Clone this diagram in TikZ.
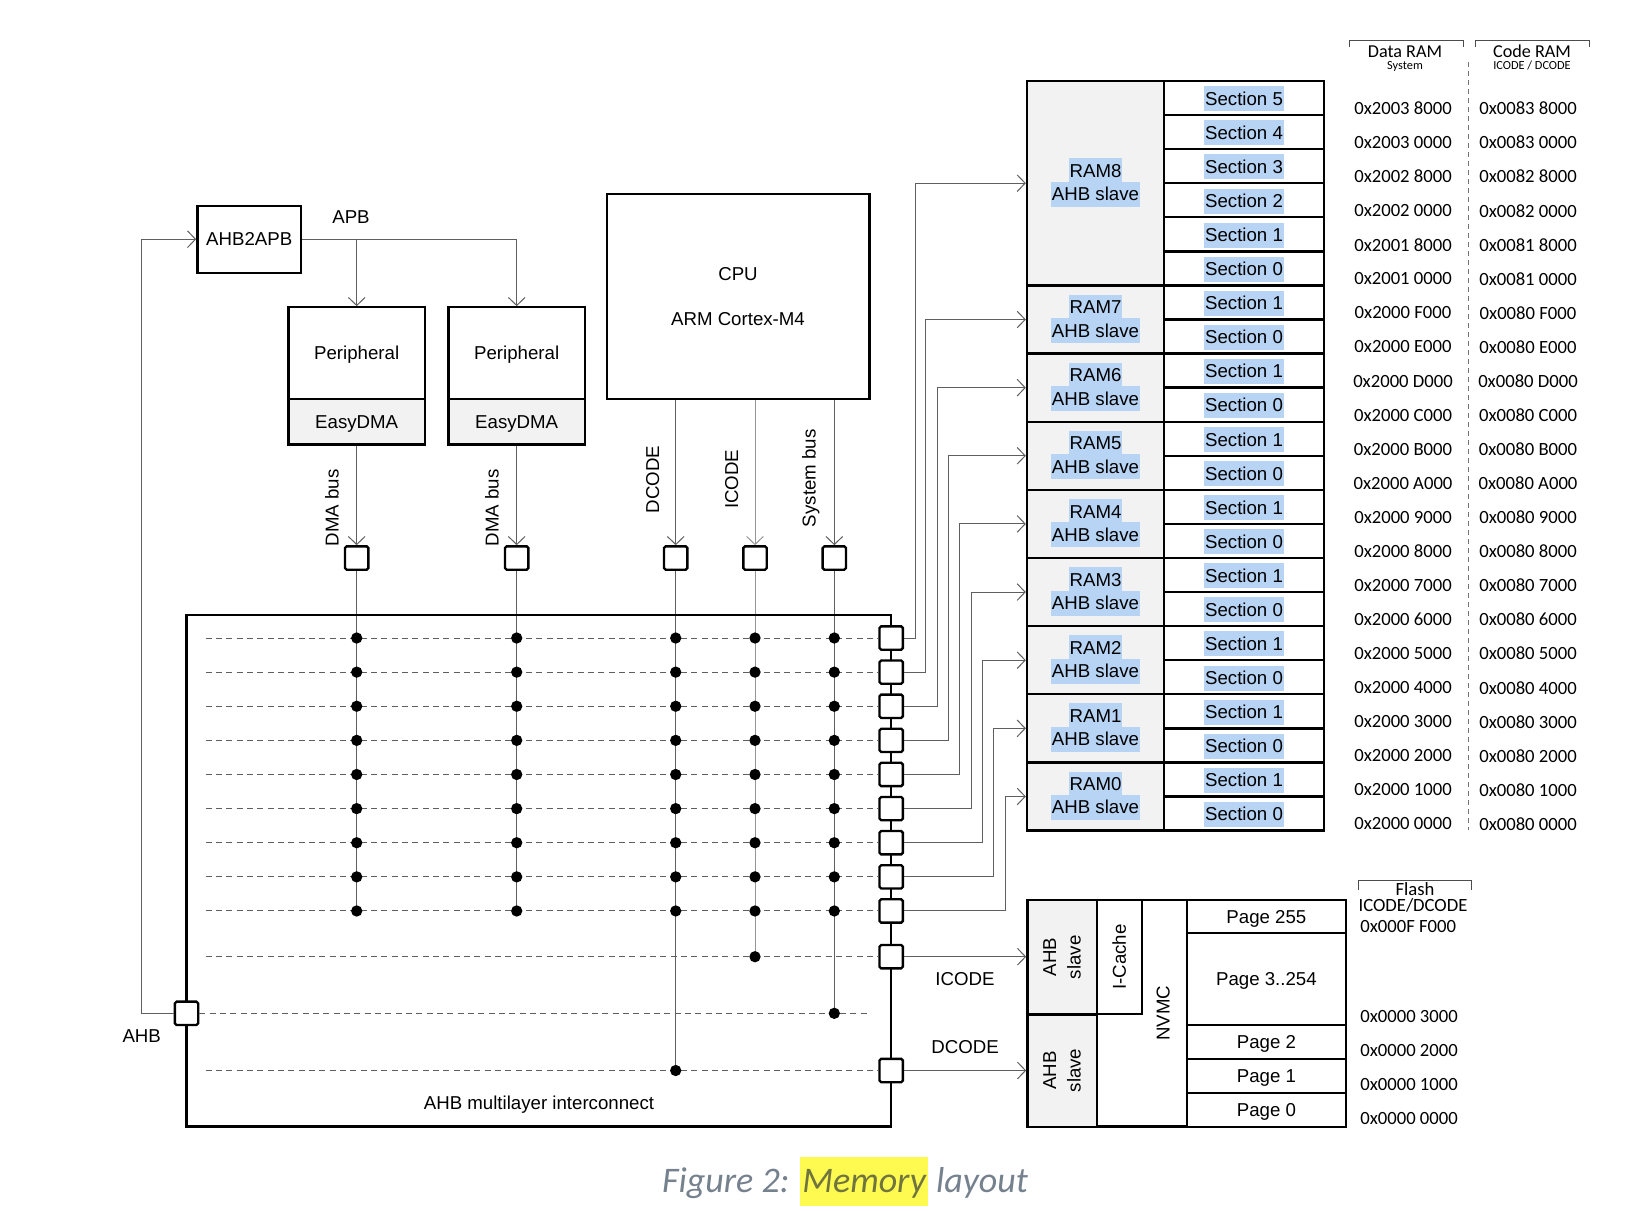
\documentclass[tikz,border=0pt]{standalone}
\usepackage{fontspec}
\setmainfont{Liberation Sans}
\newfontfamily\carl{Carlito}
\usetikzlibrary{arrows.meta,calc}
\definecolor{hl}{RGB}{183,212,245}
\definecolor{boxgrey}{RGB}{242,242,242}
\definecolor{cgrey}{RGB}{95,95,95}
\definecolor{lgrey}{RGB}{150,150,150}
\definecolor{capgrey}{RGB}{118,129,142}
\definecolor{capyel}{RGB}{255,250,80}
\definecolor{capol}{RGB}{112,116,62}
\newcommand\fA{\fontsize{11.2pt}{13.4pt}\selectfont}
\newcommand\fAr{\fontsize{11.2pt}{14.6pt}\selectfont}
\newcommand\fC{\carl\fontsize{11.2pt}{13.4pt}\selectfont}
\newcommand\fCh{\carl\fontsize{10.9pt}{12pt}\selectfont}
\newcommand\fCs{\carl\fontsize{7.4pt}{8.8pt}\selectfont}
\pgfdeclarelayer{back}
\pgfdeclarelayer{bg}
\pgfsetlayers{back,bg,main}
\begin{document}
\begin{tikzpicture}[x=0.6pt,y=-0.6pt,
  box/.style={draw, line width=1.4pt, inner sep=0pt, font=\fA},
  ctr/.style={text height=8pt, text depth=0pt},
  sq/.style={draw, line width=1.4pt, fill=white, minimum size=14pt, inner sep=0pt, rounded corners=1pt},
  conn/.style={draw=cgrey, line width=0.6pt},
  arr/.style={conn, -{Straight Barb[length=4.8pt,width=10pt]}},
  dline/.style={draw=cgrey, line width=0.6pt, dash pattern=on 3.6pt off 2.6pt},
  dot/.style={circle, fill=black, inner sep=0pt, minimum size=6.8pt},
  hlt/.style={fill=hl, inner xsep=0.6pt, inner ysep=0pt, text height=11.4pt, text depth=3.6pt, anchor=base, font=\fA},
  lab/.style={inner sep=0pt, font=\fA},
  addr/.style={inner sep=0pt, font=\fC},
]
\begin{pgfonlayer}{back}
\fill[white] (0,0) rectangle (1628,1210);
\end{pgfonlayer}
\useasboundingbox (0,0) rectangle (1628,1210);

% ---------- AHB2APB and peripherals ----------
\node[box, ctr, minimum width=62.2pt, minimum height=40.2pt] (apbbr) at (249.2,239.2) {AHB2APB};
\node[lab] (apblab) at (351,217) {APB};
\foreach \n/\xx in {1/356.7, 2/516.7} {
  \node[box, ctr, minimum width=82pt, minimum height=55.2pt] (per\n) at (\xx,353.3) {Peripheral};
  \node[box, ctr, fill=boxgrey, minimum width=82pt, minimum height=27.1pt] (dma\n) at (\xx,421.9) {EasyDMA};
  \node[sq] (sqm\n) at (\xx,558) {};
  \draw[arr] (dma\n.south) -- (sqm\n.north);
}
\node[lab, rotate=90] (dmal1) at (332,507.7) {DMA bus};
\node[lab, rotate=90] (dmal2) at (492,507.7) {DMA bus};
\draw[arr] (apbbr.east) -| (per2.north);
\draw[arr] (per1.north |- apbbr.east) -- (per1.north);

% ---------- CPU ----------
\node[box, minimum width=157.6pt, minimum height=122.9pt, align=center] (cpu) at (738,296.6) {CPU\\[14pt]ARM Cortex-M4};
\node[sq] (sqdc) at (675.7,558) {};
\node[sq] (sqic) at (755,558) {};
\node[sq] (sqsb) at (834.3,558) {};
\draw[arr] (sqdc |- cpu.south) -- (sqdc.north);
\draw[arr, draw=lgrey] (sqic |- cpu.south) -- (sqic.north);
\draw[arr] (sqsb |- cpu.south) -- (sqsb.north);
\node[lab, rotate=90] (dcl) at (652.7,479.3) {DCODE};
\node[lab, rotate=90] (icl) at (731.7,479.3) {ICODE};
\node[lab, rotate=90] (sbl) at (810.7,478.3) {System bus};

% ---------- Interconnect ----------
\node[box, minimum width=422.8pt, minimum height=306.8pt] (ic) at (538.9,870.7) {};
\node[lab] (iclab) at (539,1104.5) {AHB multilayer interconnect};
\foreach \kk in {0,...,8} {
  \pgfmathsetmacro\yy{638+34.12*\kk}
  \node[sq] (sqr\kk) at (891.2,\yy) {};
  \draw[dline] (205.6,\yy) -- (sqr\kk.west);
  \foreach \cc/\xx in {a/356.7,b/516.7,c/675.7,d/755,e/834.3}
    \node[dot] (dt\cc\kk) at (\xx,\yy) {};
}
\node[sq] (sqi) at (891.2,956.7) {};
\node[sq] (sqd) at (891.2,1070.5) {};
\node[sq] (sqa) at (186.5,1013.3) {};
\draw[dline] (205.6,956.7) -- (sqi.west);
\draw[dline] (sqa.east) -- (870,1013.3);
\draw[dline] (205.6,1070.5) -- (sqd.west);
\node[dot] (dtdI) at (755,956.7) {};
\node[dot] (dteA) at (834.3,1013.3) {};
\node[dot] (dtcD) at (675.7,1070.5) {};
\begin{pgfonlayer}{bg}
  \draw[conn] (sqm1.south) -- (dta8.center);
  \draw[conn] (sqm2.south) -- (dtb8.center);
  \draw[conn] (sqdc.south) -- (dtcD.center);
  \draw[conn, draw=lgrey] (sqic.south) -- (dtdI.center);
  \draw[conn] (sqsb.south) -- (dteA.center);
\end{pgfonlayer}

% AHB feedback to AHB2APB
\coordinate (ahbx) at (141.7,0);
\draw[arr] (sqa.west) -- (sqa.west -| ahbx) |- (apbbr.west);
\node[lab] (ahblab) at (141.7,1036) {AHB};

% ---------- RAM blocks ----------
\node[box, fill=boxgrey, minimum width=82.2pt, minimum height=122.64pt] (ram8) at (1095.5,183.2) {};
\node[hlt] at (1095.5,177.3) {RAM8};
\node[hlt] at (1095.5,200.7) {AHB slave};
\foreach \jj in {7,...,0} {
  \pgfmathsetmacro\cy{81+34.07*(6+2*(7-\jj)+1)}
  \node[box, fill=boxgrey, minimum width=82.2pt, minimum height=40.88pt] (ram\jj) at (1095.5,\cy) {};
  \node[hlt] at (1095.5,\cy-5.9) {RAM\jj};
  \node[hlt] at (1095.5,\cy+17.5) {AHB slave};
}
\foreach \rr in {0,...,21} {
  \pgfmathtruncatemacro\sn{\rr<6 ? 5-\rr : mod(\rr+1,2)}
  \pgfmathsetmacro\ry{98.04+34.07*\rr}
  \node[box, minimum width=96pt, minimum height=20.44pt] (sec\rr) at (1244,\ry) {};
  \node[hlt] at (1244,\ry+7.3) {Section \sn};
}
\foreach \kk/\xv in {0/915,1/925.5,2/937,3/948.3,4/959.5,5/971,6/982.7,7/993.7,8/1005} {
  \pgfmathtruncatemacro\jj{8-\kk}
  \coordinate (v\kk) at (\xv,0);
  \draw[arr] (sqr\kk.east) -- (sqr\kk.east -| v\kk) |- (ram\jj.west);
}

% ---------- Address columns ----------
\draw[line width=0.6pt, draw=black!70] (1349,47) -- (1349,40) -- (1463,40) -- (1463,47);
\draw[line width=0.6pt, draw=black!70] (1475,47) -- (1475,40) -- (1589,40) -- (1589,47);
\node[font=\fCh, anchor=base, inner sep=0pt] (dramh) at (1405,57.5) {Data RAM};
\node[font=\fCs, anchor=base, inner sep=0pt] (drams) at (1405,69) {System};
\node[font=\fCh, anchor=base, inner sep=0pt] (cramh) at (1532,57.5) {Code RAM};
\node[font=\fCs, anchor=base, inner sep=0pt] (crams) at (1532,69.5) {ICODE / DCODE};
\draw[line width=0.6pt, draw=black!55, dash pattern=on 3pt off 2.4pt] (1468,62) -- (1468,830);
\foreach \ii/\aa/\bb in {0/0x2003 8000/0x0083 8000, 1/0x2003 0000/0x0083 0000, 2/0x2002 8000/0x0082 8000, 3/0x2002 0000/0x0082 0000, 4/0x2001 8000/0x0081 8000, 5/0x2001 0000/0x0081 0000} {
  \node[addr] at (1403,{108.5+34.07*\ii}) {\aa};
  \node[addr] at (1528,{108.5+34.07*\ii}) {\bb};
}
\foreach \hh [count=\ii from 6] in {F,E,D,C,B,A,9,8,7,6,5,4,3,2,1,0} {
  \node[addr] at (1403,{108.5+34.07*\ii}) {0x2000 \hh000};
  \node[addr] at (1528,{108.5+34.07*\ii}) {0x0080 \hh000};
}

% ---------- Flash ----------
\node[box, fill=boxgrey, minimum width=41.6pt, minimum height=68.6pt] (fa1) at (1062,957.2) {};
\node[box, fill=boxgrey, minimum width=41.6pt, minimum height=67.4pt] (fa2) at (1062,1070.5) {};
\node[box, minimum width=54pt, minimum height=136pt] (nvmc) at (1141.7,1013.3) {};
\node[box, fill=white, minimum width=27pt, minimum height=68.4pt] (icache) at (1119.2,957) {};
\node[lab, rotate=90, align=center, font=\fAr] at (fa1) {AHB\\slave};
\node[lab, rotate=90, align=center, font=\fAr] at (fa2) {AHB\\slave};
\node[lab, rotate=90] at (icache) {I-Cache};
\node[lab, rotate=90] (nvmcl) at (1163.3,1013.3) {NVMC};
\node[box, ctr, minimum width=95.6pt, minimum height=19.6pt] (pg255) at (1266.4,916.35) {Page 255};
\node[box, ctr, minimum width=95.6pt, minimum height=55.4pt] (pgmid) at (1266.4,978.85) {Page 3..254};
\node[box, ctr, minimum width=95.6pt, minimum height=20.4pt] (pg2) at (1266.4,1042) {Page 2};
\node[box, ctr, minimum width=95.6pt, minimum height=20.2pt] (pg1) at (1266.4,1075.85) {Page 1};
\node[box, ctr, minimum width=95.6pt, minimum height=20.4pt] (pg0) at (1266.4,1109.7) {Page 0};
\draw[arr] (sqi.east) -- (fa1.west |- sqi.east);
\draw[arr] (sqd.east) -- (fa2.west |- sqd.east);
\node[lab] (icodel) at (965,979.3) {ICODE};
\node[lab] (dcodel) at (965,1046.7) {DCODE};

\draw[line width=0.6pt, draw=black!70] (1358.3,890) -- (1358.3,880.7) -- (1471.7,880.7) -- (1471.7,890);
\node[font=\fC, anchor=base, inner sep=0pt] (flh) at (1415,895) {Flash};
\node[font=\fC, anchor=base, inner sep=0pt] (flh2) at (1413,911.7) {ICODE/DCODE};
\foreach \aa/\yy in {0x000F F000/932.5, 0x0000 3000/1022.2, 0x0000 2000/1056.5, 0x0000 1000/1090.8, 0x0000 0000/1124.8}
  \node[font=\fC, anchor=base west, inner sep=0pt] at (1360,\yy) {\aa};

% ---------- Caption ----------
\node[anchor=base, inner sep=0pt, text=capgrey, font=\carl\itshape\fontsize{21.6pt}{26pt}\selectfont] (cap) at (845,1192)
  {Figure 2: {\setlength{\fboxsep}{0pt}\colorbox{capyel}{\rule[-8.6pt]{0pt}{29.5pt}\kern1.2pt\textcolor{capol}{Memory}\kern1.2pt}} layout};
\end{tikzpicture}
\end{document}
